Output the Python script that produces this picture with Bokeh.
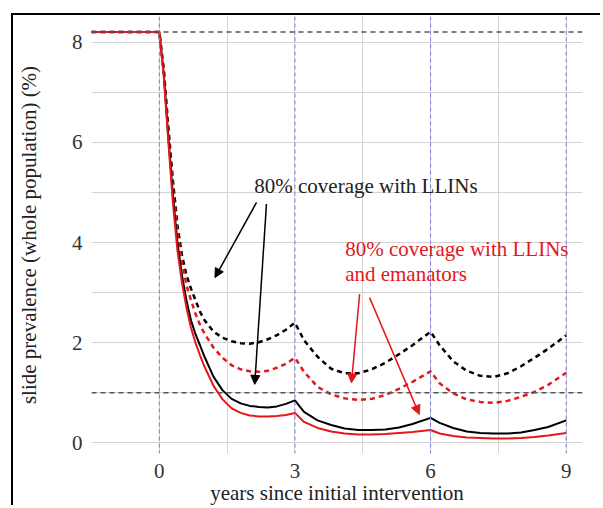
from bokeh.plotting import figure
from bokeh.models import Span, Arrow, NormalHead, Label, FixedTicker, Range1d
from bokeh.embed import file_html
from bokeh.resources import INLINE

# ---- data ----
years = [-1.5, 0, 0.1, 0.2, 0.3, 0.4, 0.5, 0.6, 0.7, 0.8, 0.9, 1.0, 1.2, 1.4, 1.6, 1.8,
         2.0, 2.2, 2.4, 2.6, 2.8, 3.0, 3.2, 3.5, 3.8, 4.1, 4.4, 4.7, 5.0, 5.3, 5.6,
         6.0, 6.2, 6.5, 6.8, 7.1, 7.4, 7.7, 8.0, 8.3, 8.6, 9.0]

llin_dashed = [8.2, 8.2, 7.45, 6.3, 5.25, 4.35, 3.75, 3.35, 3.08, 2.85, 2.62, 2.45, 2.22, 2.1,
               2.03, 1.99, 1.98, 2.01, 2.07, 2.15, 2.26, 2.4, 2.05, 1.72, 1.48, 1.39, 1.39,
               1.47, 1.6, 1.77, 1.95, 2.22, 1.95, 1.63, 1.44, 1.34, 1.32, 1.39, 1.53, 1.7,
               1.88, 2.15]
eman_dashed = [8.2, 8.2, 7.4, 6.2, 5.1, 4.2, 3.6, 3.15, 2.85, 2.58, 2.36, 2.18, 1.9, 1.7,
               1.55, 1.47, 1.43, 1.42, 1.44, 1.5, 1.58, 1.7, 1.42, 1.12, 0.97, 0.89, 0.86,
               0.88, 0.96, 1.08, 1.22, 1.43, 1.19, 0.99, 0.87, 0.82, 0.8, 0.84, 0.92, 1.02,
               1.16, 1.4]
llin_solid = [8.2, 8.2, 7.35, 6.1, 4.95, 4.0, 3.35, 2.85, 2.45, 2.17, 1.95, 1.72, 1.32, 1.05,
              0.88, 0.79, 0.74, 0.72, 0.71, 0.73, 0.78, 0.85, 0.62, 0.45, 0.36, 0.29, 0.26,
              0.26, 0.27, 0.31, 0.38, 0.5, 0.4, 0.3, 0.23, 0.2, 0.19, 0.19, 0.21, 0.26,
              0.32, 0.45]
eman_solid = [8.2, 8.2, 7.3, 6.0, 4.8, 3.85, 3.2, 2.7, 2.3, 2.0, 1.75, 1.52, 1.14, 0.87,
              0.69, 0.6, 0.55, 0.53, 0.53, 0.54, 0.56, 0.6, 0.42, 0.3, 0.23, 0.19, 0.17,
              0.17, 0.18, 0.2, 0.22, 0.26, 0.19, 0.14, 0.11, 0.1, 0.09, 0.09, 0.1, 0.12,
              0.15, 0.2]

x_ticks = [0, 3, 6, 9]
y_ticks = [0, 2, 4, 6, 8]
x_grid = [0, 1.5, 3, 4.5, 6, 7.5, 9]
y_grid = [0, 1, 2, 3, 4, 5, 6, 7, 8]
round_years = [0, 3, 6, 9]
ref_levels = [8.2, 1.0]

label_llin = "80%  coverage with LLINs"
label_eman = ["80%  coverage with LLINs", "and emanators"]
label_llin_pos = (2.1, 5.13)
label_eman_pos = [(4.11, 3.87), (4.11, 3.37)]
arrows_black = [((2.15, 4.8), (1.23, 3.3)), ((2.37, 4.77), (2.11, 1.17))]
arrows_red = [((4.43, 2.97), (4.25, 1.2)), ((4.65, 2.9), (5.75, 0.57))]

RED = "#e3171c"
FONT = "'Liberation Serif'"
FS = "21px"

p = figure(width=589, height=492, output_backend="svg", toolbar_location=None,
           x_range=Range1d(-1.5, 9.36), y_range=Range1d(-0.21, 8.51),
           min_border_left=77, min_border_top=1, min_border_right=20, min_border_bottom=50)
p.margin = (13, 0, 0, 11)
p.styles = {"border-left": "2px solid #000", "border-top": "2px solid #000"}
p.outline_line_color = None
p.background_fill_color = "white"
p.border_fill_color = "white"

p.xaxis.ticker = FixedTicker(ticks=x_ticks)
p.yaxis.ticker = FixedTicker(ticks=y_ticks)
p.xgrid.ticker = FixedTicker(ticks=x_grid)
p.ygrid.ticker = FixedTicker(ticks=y_grid)
p.grid.grid_line_color = "#d4d4d4"
p.grid.grid_line_width = 1

for ax in (p.xaxis, p.yaxis):
    ax.axis_line_color = None
    ax.major_tick_line_color = None
    ax.minor_tick_line_color = None
    ax.major_label_text_font = FONT
    ax.major_label_text_font_size = FS
    ax.major_label_text_color = "#333333"
    ax.axis_label_text_font = FONT
    ax.axis_label_text_font_size = FS
    ax.axis_label_text_font_style = "normal"
    ax.axis_label_text_color = "#222222"
p.xaxis.axis_label = "years since initial intervention"
p.yaxis.axis_label = "slide prevalence (whole population) (%)"
p.xaxis.major_label_standoff = 4
p.yaxis.major_label_standoff = 3
p.xaxis.axis_label_standoff = 0
p.yaxis.axis_label_standoff = 28

for xv in round_years:
    p.add_layout(Span(location=xv, dimension="height", line_color="#7b7bea",
                      line_dash="4 3", line_width=1))
for yv in ref_levels:
    p.add_layout(Span(location=yv, dimension="width", line_color="#555555",
                      line_dash="5 4", line_width=1.5))

p.line(years, llin_dashed, line_color="black", line_width=2.5, line_dash="5 4")
p.line(years, eman_dashed, line_color=RED, line_width=2.5, line_dash="5 4")
p.line(years, llin_solid, line_color="black", line_width=2)
p.line(years, eman_solid, line_color=RED, line_width=2)

p.add_layout(Label(x=label_llin_pos[0], y=label_llin_pos[1], text=label_llin,
                   text_font=FONT, text_font_size=FS, text_color="#222222",
                   text_baseline="middle"))
for (lx, ly), t in zip(label_eman_pos, label_eman):
    p.add_layout(Label(x=lx, y=ly, text=t, text_font=FONT, text_font_size=FS,
                       text_color=RED, text_baseline="middle"))

for (s, e) in arrows_black:
    p.add_layout(Arrow(x_start=s[0], y_start=s[1], x_end=e[0], y_end=e[1],
                       line_color="black", line_width=1.5,
                       end=NormalHead(size=9, fill_color="black", line_color="black")))
for (s, e) in arrows_red:
    p.add_layout(Arrow(x_start=s[0], y_start=s[1], x_end=e[0], y_end=e[1],
                       line_color=RED, line_width=1.5,
                       end=NormalHead(size=9, fill_color=RED, line_color=RED)))

open("out.html", "w").write(file_html(p, INLINE))
